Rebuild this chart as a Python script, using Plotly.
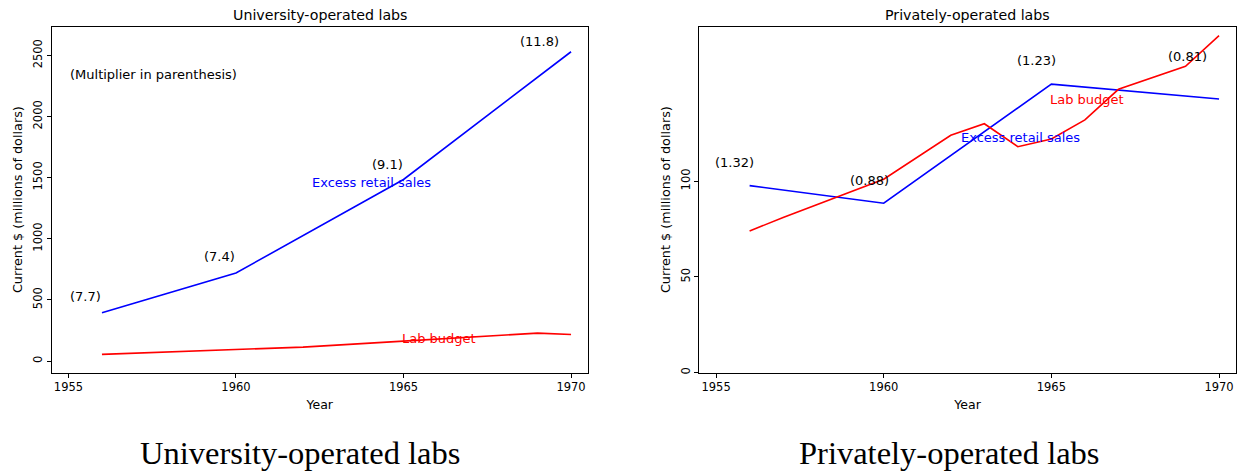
import plotly.graph_objects as go

# ---------------- data ----------------
univ_sales_years = [1956, 1960, 1965, 1970]
univ_sales = [395, 720, 1485, 2530]
univ_budget_years = [1956, 1960, 1962, 1965, 1969, 1970]
univ_budget = [54, 95, 114, 163, 228, 217]
univ_multipliers = ["(7.7)", "(7.4)", "(9.1)", "(11.8)"]

priv_sales_years = [1956, 1960, 1965, 1970]
priv_sales = [97.7, 88.5, 150.7, 142.9]
priv_budget_years = [1956, 1957, 1960, 1962, 1963, 1964, 1965, 1966, 1967, 1969, 1970]
priv_budget = [74, 81, 101, 124, 130, 118, 122, 132, 148, 160, 176]
priv_multipliers = ["(1.32)", "(0.88)", "(1.23)", "(0.81)"]

x_ticks = [1955, 1960, 1965, 1970]
univ_y_ticks = [0, 500, 1000, 1500, 2000, 2500]
priv_y_ticks = [0, 50, 100]

titles = ["University-operated labs", "Privately-operated labs"]
captions = ["University-operated labs", "Privately-operated labs"]

# ---------------- figure ----------------
W, H = 1238, 474
FONT = "DejaVu Sans"
BLUE, RED = "#0000ff", "#ff0000"

fig = go.Figure()
fig.add_trace(go.Scatter(x=univ_sales_years, y=univ_sales, mode="lines",
                         line=dict(color=BLUE, width=1.6), xaxis="x", yaxis="y"))
fig.add_trace(go.Scatter(x=univ_budget_years, y=univ_budget, mode="lines",
                         line=dict(color=RED, width=1.6), xaxis="x", yaxis="y"))
fig.add_trace(go.Scatter(x=priv_sales_years, y=priv_sales, mode="lines",
                         line=dict(color=BLUE, width=1.6), xaxis="x2", yaxis="y2"))
fig.add_trace(go.Scatter(x=priv_budget_years, y=priv_budget, mode="lines",
                         line=dict(color=RED, width=1.6), xaxis="x2", yaxis="y2"))

def px_x(p):
    return p / W

def px_y(p):
    return (H - p) / H

dom_left = [px_x(51.7), px_x(587.8)]
dom_right = [px_x(699.3), px_x(1235.8)]
dom_y = [px_y(374.2), px_y(26.8)]

axis_common = dict(showline=True, linecolor="black", linewidth=1, mirror=True,
                   ticks="outside", ticklen=4, tickwidth=1, tickcolor="black",
                   showgrid=False, zeroline=False,
                   tickfont=dict(family=FONT, size=11.5, color="black"))

fig.update_layout(
    width=W, height=H, margin=dict(l=0, r=0, t=0, b=0),
    paper_bgcolor="white", plot_bgcolor="white", showlegend=False,
    font=dict(family=FONT, color="black"),
    xaxis=dict(domain=dom_left, range=[1954.5, 1970.5], tickvals=x_ticks,
               title=dict(text="Year", font=dict(size=12.5, family=FONT), standoff=6),
               anchor="y", **axis_common),
    yaxis=dict(domain=dom_y, range=[-95, 2735], tickvals=univ_y_ticks, tickangle=-90,
               title=dict(text="Current $ (millions of dollars)", font=dict(size=12.8, family=FONT), standoff=5),
               anchor="x", **axis_common),
    xaxis2=dict(domain=dom_right, range=[1954.5, 1970.5], tickvals=x_ticks,
                title=dict(text="Year", font=dict(size=12.5, family=FONT), standoff=6),
                anchor="y2", **axis_common),
    yaxis2=dict(domain=dom_y, range=[0, 180.7], tickvals=priv_y_ticks, tickangle=-90,
                title=dict(text="Current $ (millions of dollars)", font=dict(size=12.8, family=FONT), standoff=5),
                anchor="x2", **axis_common),
)

ann = []
# subplot titles
for dom, t in zip([dom_left, dom_right], titles):
    ann.append(dict(text=t, xref="paper", yref="paper", x=(dom[0] + dom[1]) / 2, y=px_y(15),
                    xanchor="center", yanchor="middle", showarrow=False,
                    font=dict(family=FONT, size=14.2, color="black")))
# captions
for cx, t in zip([300, 949], captions):
    ann.append(dict(text=t, xref="paper", yref="paper", x=px_x(cx), y=px_y(455),
                    xanchor="center", yanchor="middle", showarrow=False,
                    font=dict(family="Liberation Serif", size=32.5, color="black")))

def txt(text, x, y, xr, yr, color="black"):
    ann.append(dict(text=text, x=x, y=y, xref=xr, yref=yr, xanchor="left", yanchor="middle",
                    showarrow=False, font=dict(family=FONT, size=13, color=color)))

# left panel texts
txt("(Multiplier in parenthesis)", 1955.0, 2341, "x", "y")
for lab, (xx, yy) in zip(univ_multipliers, [(1955.0, 526), (1959.0, 852), (1964.0, 1608), (1968.42, 2613)]):
    txt(lab, xx, yy, "x", "y")
txt("Excess retail sales", 1962.21, 1459, "x", "y", BLUE)
txt("Lab budget", 1964.9, 182, "x", "y", RED)

# right panel texts
for lab, (xx, yy) in zip(priv_multipliers, [(1954.92, 109.9), (1958.93, 100.3), (1963.92, 162.8), (1968.41, 164.9)]):
    txt(lab, xx, yy, "x2", "y2")
txt("Excess retail sales", 1962.23, 122.9, "x2", "y2", BLUE)
txt("Lab budget", 1964.91, 142.5, "x2", "y2", RED)

fig.update_layout(annotations=ann)
# remove the browser's default page margin so the figure sits at the top-left corner
fig.write_html("out.html", config={"displayModeBar": False},
               post_script="document.body.style.margin='0';document.body.style.overflow='hidden';")
